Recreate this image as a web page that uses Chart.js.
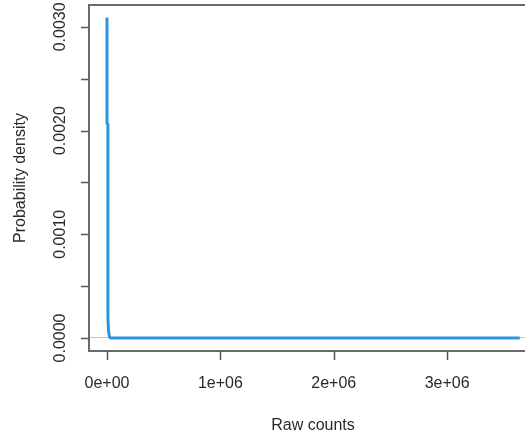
<!DOCTYPE html>
<html>
<head>
<meta charset="utf-8">
<script src="https://cdn.jsdelivr.net/npm/chart.js@4/dist/chart.umd.min.js"></script>
<style>
  html, body { margin: 0; padding: 0; background: #fff; overflow: hidden; }
  canvas { display: block; }
</style>
</head>
<body>
<canvas id="densityChart" width="545" height="436"></canvas>
<script>
// density of raw counts
const rawCounts = [0, 0, 8000, 8000, 14000, 22000, 32000, 3640000];
const density = [0.00309, 0.00207, 0.00206, 0.00020, 0.00006, 0.00001, 0, 0];

const xTicks = [0, 1e6, 2e6, 3e6];
const xTickLabels = ['0e+00', '1e+06', '2e+06', '3e+06'];
const yTicks = [0, 0.0005, 0.001, 0.0015, 0.002, 0.0025, 0.003];
const yTickLabels = ['0.0000', '', '0.0010', '', '0.0020', '', '0.0030'];

const xTitle = 'Raw counts';
const yTitle = 'Probability density';

const FONT = '16px "Liberation Sans", Arial, sans-serif';
const TEXT = '#2a2a2a';
const FRAME = '#6a6a6a';

const zeroLine = {
    id: 'zeroLine',
    beforeDatasetsDraw(chart) {
        const ctx = chart.ctx;
        const a = chart.chartArea;
        const y = Math.round(chart.scales.y.getPixelForValue(0)) - 0.5;
        ctx.save();
        ctx.strokeStyle = '#c8c8c8';
        ctx.lineWidth = 1;
        ctx.beginPath();
        ctx.moveTo(a.left, y);
        ctx.lineTo(a.right, y);
        ctx.stroke();
        ctx.restore();
    }
};

// R style box, ticks and labels
const rAxes = {
    id: 'rAxes',
    afterDraw(chart) {
        const ctx = chart.ctx;
        const a = chart.chartArea;
        const xs = chart.scales.x;
        const ys = chart.scales.y;
        ctx.save();
        ctx.strokeStyle = FRAME;
        ctx.lineWidth = 2;
        ctx.strokeRect(Math.round(a.left), Math.round(a.top),
            Math.round(a.right - a.left), Math.round(a.bottom - a.top));

        ctx.strokeStyle = '#555';
        ctx.lineWidth = 1.5;
        ctx.beginPath();
        xTicks.forEach(v => {
            const px = Math.round(xs.getPixelForValue(v)) + 0.5;
            ctx.moveTo(px, a.bottom);
            ctx.lineTo(px, a.bottom + 9);
        });
        yTicks.forEach(v => {
            const py = Math.round(ys.getPixelForValue(v)) + 0.5;
            ctx.moveTo(a.left, py);
            ctx.lineTo(a.left - 8, py);
        });
        ctx.stroke();

        ctx.fillStyle = TEXT;
        ctx.font = FONT;
        ctx.textAlign = 'center';
        ctx.textBaseline = 'alphabetic';
        xTicks.forEach((v, i) => {
            ctx.fillText(xTickLabels[i], xs.getPixelForValue(v), a.bottom + 37);
        });
        ctx.fillText(xTitle, (a.left + a.right) / 2, a.bottom + 79);

        yTicks.forEach((v, i) => {
            if (!yTickLabels[i]) return;
            ctx.save();
            ctx.translate(a.left - 24, ys.getPixelForValue(v));
            ctx.rotate(-Math.PI / 2);
            ctx.fillText(yTickLabels[i], 0, 0);
            ctx.restore();
        });

        ctx.save();
        ctx.translate(a.left - 64, (a.top + a.bottom) / 2);
        ctx.rotate(-Math.PI / 2);
        ctx.fillText(yTitle, 0, 0);
        ctx.restore();
        ctx.restore();
    }
};

new Chart(document.getElementById('densityChart'), {
    type: 'scatter',
    data: {
        datasets: [{
            label: 'density',
            data: rawCounts.map((x, i) => ({ x: x, y: density[i] })),
            showLine: true,
            borderColor: 'rgb(44,150,225)',
            borderWidth: 3,
            pointRadius: 0,
            tension: 0,
            fill: false
        }]
    },
    options: {
        responsive: false,
        animation: false,
        devicePixelRatio: 1,
        layout: { padding: { left: 89, top: 5, right: 8, bottom: 85 } },
        plugins: {
            legend: { display: false },
            tooltip: { enabled: false }
        },
        scales: {
            x: { type: 'linear', display: false, min: -158700, max: 3792000 },
            y: { type: 'linear', display: false, min: -0.0001254, max: 0.003211 }
        }
    },
    plugins: [zeroLine, rAxes]
});
</script>
</body>
</html>
